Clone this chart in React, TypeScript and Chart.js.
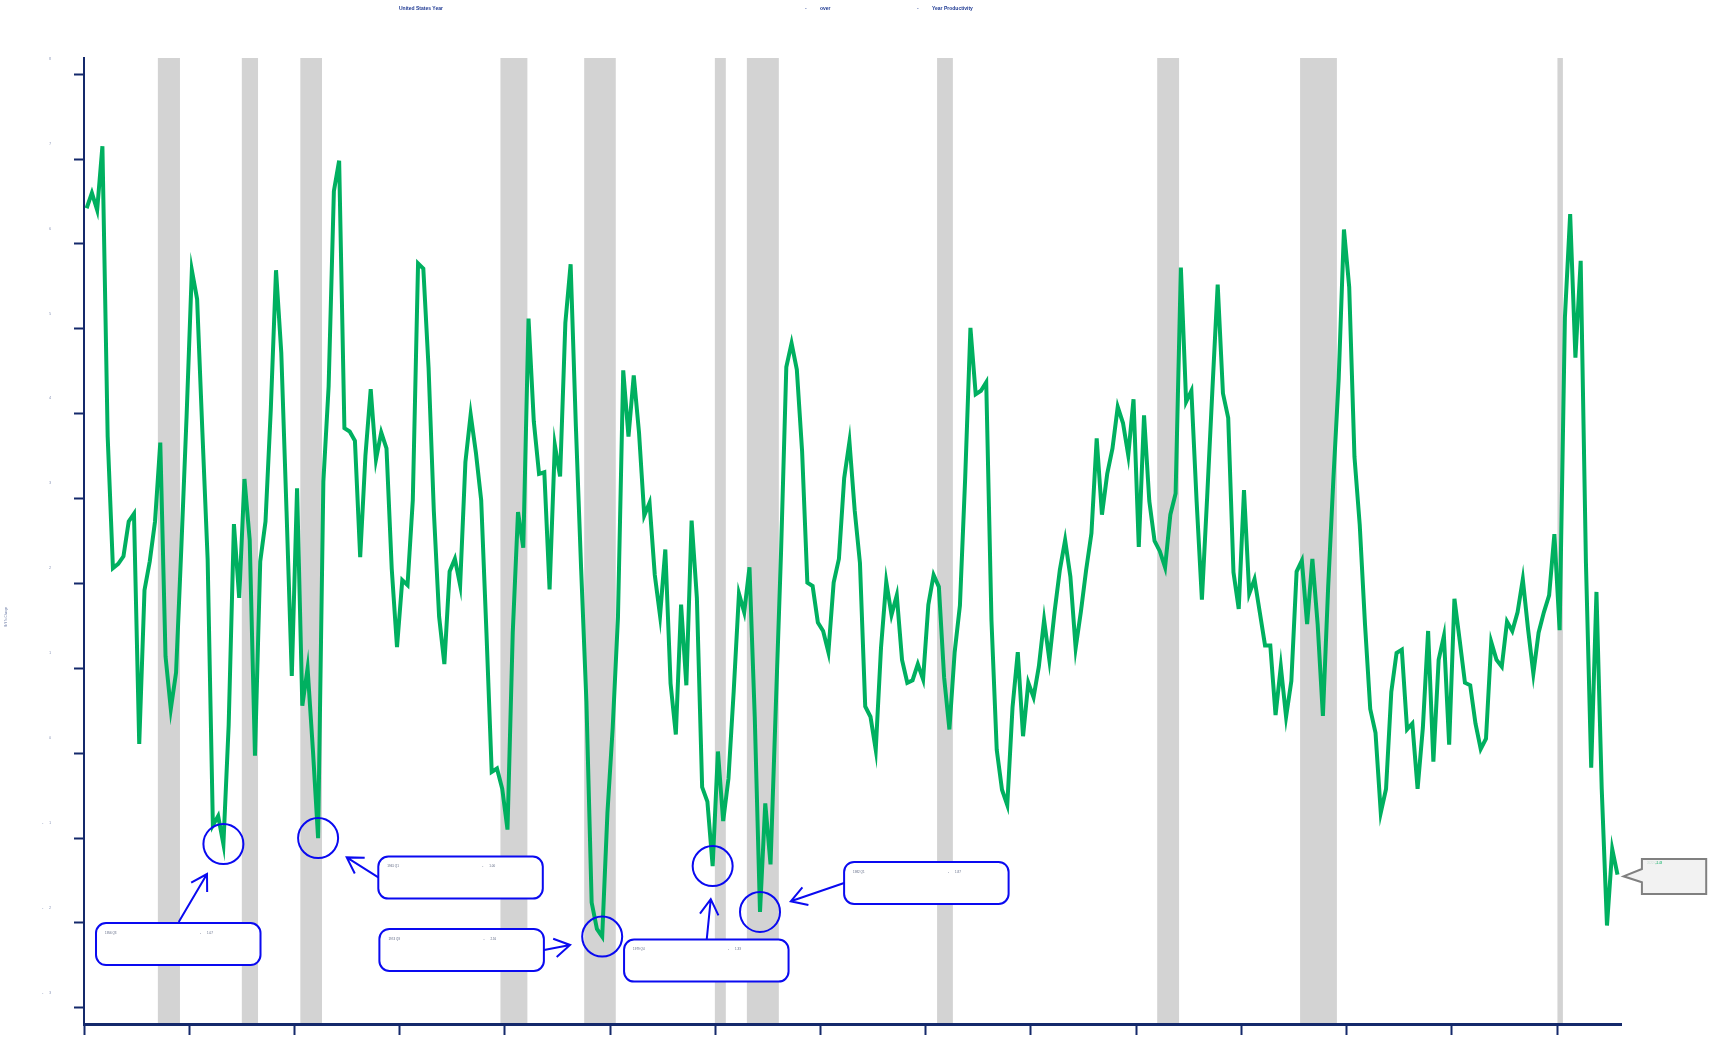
import React, { useEffect, useRef } from "react";
import { Chart, registerables } from "chart.js";

Chart.register(...registerables);

// ---------------- data ----------------
const FIRST_YEAR = 1950;
const QUARTER_NAMES = ["Q1", "Q2", "Q3", "Q4"];

const YOY_1950S = [
  6.42, 6.6, 6.4, 7.15, 3.73, 2.18, 2.23, 2.32, 2.73, 2.82, 0.11, 1.92,
  2.26, 2.73, 3.66, 1.14, 0.52, 0.95, 2.42, 3.97, 5.69, 5.35, 3.79, 2.29,
  -0.85, -0.74, -1.07, 0.33, 2.7, 1.83, 3.23, 2.51, -0.03, 2.26, 2.73, 4.04,
  5.69, 4.72, 2.85, 0.91,
];
const YOY_1960S = [
  3.12, 0.56, 1.0, 0.05, -1.0, 3.2, 4.32, 6.62, 6.98, 3.83, 3.79, 3.68,
  2.31, 3.51, 4.29, 3.46, 3.78, 3.59, 2.17, 1.25, 2.04, 1.98, 2.98, 5.77,
  5.71, 4.54, 2.85, 1.61, 1.05, 2.14, 2.29, 1.98, 3.43, 3.99, 3.54, 2.98,
  1.42, -0.22, -0.18, -0.42,
];
const YOY_1970S = [
  -0.9, 1.42, 2.84, 2.42, 5.12, 3.91, 3.29, 3.31, 1.93, 3.63, 3.26, 5.07,
  5.76, 3.85, 2.17, 0.61, -1.76, -2.07, -2.16, -0.7, 0.3, 1.6, 4.51, 3.73,
  4.45, 3.78, 2.8, 2.95, 2.1, 1.62, 2.4, 0.82, 0.22, 1.75, 0.8, 2.74,
  1.83, -0.4, -0.57, -1.33,
];
const YOY_1980S = [
  0.02, -0.8, -0.3, 0.73, 1.88, 1.66, 2.19, 0.43, -1.87, -0.59, -1.31, 0.54,
  2.37, 4.55, 4.83, 4.52, 3.56, 2.01, 1.97, 1.54, 1.44, 1.19, 2.01, 2.29,
  3.24, 3.67, 2.86, 2.24, 0.55, 0.43, 0.04, 1.24, 2.02, 1.63, 1.86, 1.1,
  0.83, 0.86, 1.05, 0.87,
];
const YOY_1990S = [
  1.75, 2.1, 1.96, 0.89, 0.28, 1.19, 1.74, 3.24, 5.01, 4.23, 4.27, 4.37,
  1.56, 0.04, -0.43, -0.61, 0.54, 1.19, 0.2, 0.83, 0.66, 1.02, 1.57, 1.1,
  1.67, 2.16, 2.51, 2.08, 1.24, 1.67, 2.16, 2.59, 3.71, 2.81, 3.29, 3.59,
  4.08, 3.89, 3.51, 4.17,
];
const YOY_2000S = [
  2.43, 3.98, 2.97, 2.5, 2.38, 2.19, 2.81, 3.06, 5.72, 4.14, 4.27, 2.96,
  1.81, 3.02, 4.29, 5.52, 4.24, 3.95, 2.13, 1.7, 3.1, 1.88, 2.05, 1.66,
  1.27, 1.27, 0.45, 1.02, 0.43, 0.85, 2.14, 2.27, 1.52, 2.29, 1.52, 0.44,
  1.96, 3.24, 4.41, 6.17,
];
const YOY_2010S = [
  5.49, 3.49, 2.69, 1.52, 0.52, 0.24, -0.7, -0.42, 0.72, 1.18, 1.22, 0.28,
  0.35, -0.42, 0.3, 1.44, -0.1, 1.1, 1.38, 0.1, 1.82, 1.33, 0.83, 0.8,
  0.35, 0.05, 0.17, 1.31, 1.1, 1.02, 1.55, 1.44, 1.66, 2.05, 1.46, 0.94,
  1.42, 1.66, 1.86, 2.58,
];
const YOY_2020S = [
  1.45, 5.13, 6.35, 4.66, 5.8, 2.24, -0.17, 1.9, -0.42, -2.03, -1.13, -1.43,
];

const PRODUCTIVITY_YOY = [
  ...YOY_1950S, ...YOY_1960S, ...YOY_1970S, ...YOY_1980S,
  ...YOY_1990S, ...YOY_2000S, ...YOY_2010S, ...YOY_2020S,
];

const Y_TICK_VALUES = [-3, -2, -1, 0, 1, 2, 3, 4, 5, 6, 7, 8];
const X_TICK_YEARS = [1950, 1955, 1960, 1965, 1970, 1975, 1980, 1985, 1990, 1995, 2000, 2005, 2010, 2015, 2020];

const RECESSION_STARTS = [1953.51, 1957.5, 1960.28, 1969.79, 1973.77, 1979.98, 1981.5, 1990.54, 2001.0, 2007.79, 2020.02];
const RECESSION_ENDS = [1954.56, 1958.27, 1961.31, 1971.07, 1975.27, 1980.5, 1983.02, 1991.29, 2002.04, 2009.54, 2020.28];

const TROUGH_INDEXES = [26, 44, 98, 119, 128];

const TITLE_PARTS = ["United States Year", "-", "over", "-", "Year Productivity"];
const Y_AXIS_TITLE = "YoY % Change";

// ---------------- layout / styles ----------------
const NAVY = "#14296b";
const LINE_GREEN = "#00b060";
const BAND_GRAY = "#d3d3d3";
const ANNOT_BLUE = "#0a0af0";
const FONT = "'Liberation Sans', Arial, sans-serif";

const TITLE_X = [399, 805, 820, 917, 932];
const TITLE_Y = 9;

// offsets (px) from each trough point: box top-left, arrow start, arrow tip
const BOX_W = 164.5;
const BOX_H = 42;
const BOX_OFFSETS = [[-127.4, 79], [60.2, 18.5], [-222.8, -7.6], [-88.6, 73.5], [84.1, -50]];
const ARROW_FROM = [[-44.7, 78], [60.2, 39.3], [-58.1, 13.4], [-5.9, 73], [84.1, -29]];
const ARROW_TO = [[-16.4, 30], [28.6, 19.3], [-32.1, 8.4], [-1.9, 33], [30.8, -10.7]];

const quarterX = (i: number) => FIRST_YEAR + (i + 0.5) / 4;
const quarterLabel = (i: number) => `${FIRST_YEAR + Math.floor(i / 4)} ${QUARTER_NAMES[i % 4]}`;

function roundRectPath(ctx: CanvasRenderingContext2D, x: number, y: number, w: number, h: number, r: number) {
  ctx.beginPath();
  ctx.moveTo(x + r, y);
  ctx.lineTo(x + w - r, y);
  ctx.arcTo(x + w, y, x + w, y + r, r);
  ctx.lineTo(x + w, y + h - r);
  ctx.arcTo(x + w, y + h, x + w - r, y + h, r);
  ctx.lineTo(x + r, y + h);
  ctx.arcTo(x, y + h, x, y + h - r, r);
  ctx.lineTo(x, y + r);
  ctx.arcTo(x, y, x + r, y, r);
  ctx.closePath();
}

const overlayPlugin = {
  id: "overlay",
  beforeDraw(chart: any) {
    const { ctx, chartArea, scales } = chart;
    ctx.save();
    ctx.fillStyle = BAND_GRAY;
    for (let k = 0; k < RECESSION_STARTS.length; k++) {
      const x0 = scales.x.getPixelForValue(RECESSION_STARTS[k]);
      const x1 = scales.x.getPixelForValue(RECESSION_ENDS[k]);
      ctx.fillRect(x0, chartArea.top, x1 - x0, chartArea.bottom - chartArea.top);
    }
    ctx.restore();
  },
  afterDatasetsDraw(chart: any) {
    const { ctx, scales } = chart;
    ctx.save();
    TROUGH_INDEXES.forEach((idx, k) => {
      const cx = scales.x.getPixelForValue(quarterX(idx));
      const cy = scales.y.getPixelForValue(PRODUCTIVITY_YOY[idx]);
      ctx.strokeStyle = ANNOT_BLUE;
      ctx.lineWidth = 2;
      // circle
      ctx.beginPath();
      ctx.arc(cx, cy, 20, 0, Math.PI * 2);
      ctx.stroke();
      // arrow
      const fx = cx + ARROW_FROM[k][0], fy = cy + ARROW_FROM[k][1];
      const tx = cx + ARROW_TO[k][0], ty = cy + ARROW_TO[k][1];
      ctx.beginPath();
      ctx.moveTo(fx, fy);
      ctx.lineTo(tx, ty);
      const ang = Math.atan2(fy - ty, fx - tx);
      const hl = 18, spread = (31 * Math.PI) / 180;
      ctx.moveTo(tx + hl * Math.cos(ang + spread), ty + hl * Math.sin(ang + spread));
      ctx.lineTo(tx, ty);
      ctx.lineTo(tx + hl * Math.cos(ang - spread), ty + hl * Math.sin(ang - spread));
      ctx.stroke();
      // box
      const bx = cx + BOX_OFFSETS[k][0], by = cy + BOX_OFFSETS[k][1];
      roundRectPath(ctx, bx, by, BOX_W, BOX_H, 10);
      ctx.fillStyle = "#ffffff";
      ctx.fill();
      ctx.stroke();
      // text
      const v = PRODUCTIVITY_YOY[idx];
      ctx.fillStyle = "#5a6480";
      ctx.font = `3px ${FONT}`;
      ctx.textBaseline = "middle";
      ctx.textAlign = "left";
      ctx.fillText(quarterLabel(idx), bx + 9, by + 10);
      ctx.fillText(v < 0 ? "-" : "", bx + 104, by + 10);
      ctx.fillText(Math.abs(v).toFixed(2), bx + 111, by + 10);
    });

    // last-point callout
    const li = PRODUCTIVITY_YOY.length - 1;
    const px = scales.x.getPixelForValue(quarterX(li));
    const py = scales.y.getPixelForValue(PRODUCTIVITY_YOY[li]);
    const rx = px + 24.4, ry = py - 15.6, rw = 64.3, rh = 35;
    ctx.beginPath();
    ctx.moveTo(rx, ry);
    ctx.lineTo(rx + rw, ry);
    ctx.lineTo(rx + rw, ry + rh);
    ctx.lineTo(rx, ry + rh);
    ctx.lineTo(rx, py + 7.7);
    ctx.lineTo(px + 6, py + 1.7);
    ctx.lineTo(rx, py - 5.6);
    ctx.closePath();
    ctx.fillStyle = "#f2f2f2";
    ctx.fill();
    ctx.strokeStyle = "#808080";
    ctx.lineWidth = 2;
    ctx.stroke();
    ctx.font = `3px ${FONT}`;
    ctx.textBaseline = "middle";
    ctx.textAlign = "left";
    ctx.fillStyle = "#c8dcd2";
    ctx.fillText(quarterLabel(li), rx + 5, ry + 4);
    ctx.fillStyle = LINE_GREEN;
    ctx.fillText(PRODUCTIVITY_YOY[li].toFixed(2), rx + 13.5, ry + 4);
    ctx.restore();
  },
  afterDraw(chart: any) {
    const { ctx } = chart;
    ctx.save();
    ctx.fillStyle = "#1f3a93";
    ctx.font = `bold 5px ${FONT}`;
    ctx.textBaseline = "middle";
    ctx.textAlign = "left";
    TITLE_PARTS.forEach((t, k) => ctx.fillText(t, TITLE_X[k], TITLE_Y));
    ctx.translate(6, 617);
    ctx.rotate(-Math.PI / 2);
    ctx.textAlign = "center";
    ctx.font = `3px ${FONT}`;
    ctx.fillStyle = "#6b7aa5";
    ctx.fillText(Y_AXIS_TITLE, 0, 0);
    ctx.restore();
  },
};

export default function App() {
  const canvasRef = useRef<HTMLCanvasElement | null>(null);

  useEffect(() => {
    const canvas = canvasRef.current;
    if (!canvas) return;
    const points = PRODUCTIVITY_YOY.map((v, i) => ({ x: quarterX(i), y: v }));
    const chart = new Chart(canvas, {
      type: "line",
      data: {
        datasets: [
          {
            label: "Productivity YoY",
            data: points,
            borderColor: LINE_GREEN,
            borderWidth: 4,
            pointRadius: 0,
            tension: 0,
            fill: false,
          },
        ],
      },
      options: {
        responsive: false,
        animation: false,
        devicePixelRatio: 1,
        layout: { padding: { top: 58, right: 87.6, bottom: 0, left: 0 } },
        plugins: {
          legend: { display: false },
          title: { display: false },
          tooltip: { enabled: false },
        },
        scales: {
          x: {
            type: "linear",
            min: 1950,
            max: 2023.06,
            afterBuildTicks: (s: any) => {
              s.ticks = X_TICK_YEARS.map((v) => ({ value: v }));
            },
            afterFit: (s: any) => {
              s.height = 14;
              s.paddingLeft = 0;
              s.paddingRight = 0;
            },
            ticks: { display: false },
            grid: { drawOnChartArea: false, drawTicks: true, tickLength: 11, tickWidth: 2, tickColor: NAVY },
            border: { display: true, color: NAVY, width: 3 },
          },
          y: {
            type: "linear",
            min: -3.19,
            max: 8.19,
            afterBuildTicks: (s: any) => {
              s.ticks = Y_TICK_VALUES.map((v) => ({ value: v }));
            },
            afterFit: (s: any) => {
              s.width = 84;
              s.paddingTop = 0;
              s.paddingBottom = 0;
            },
            ticks: {
              autoSkip: false,
              padding: 23,
              labelOffset: -15,
              color: "#6b7aa5",
              font: { size: 3, family: FONT },
              callback: (v: any) => (v < 0 ? `-\u2003\u2003${Math.abs(v)}` : `${v}`),
            },
            grid: { drawOnChartArea: false, drawTicks: true, tickLength: 10, tickWidth: 2, tickColor: NAVY },
            border: { display: true, color: NAVY, width: 2 },
          },
        },
      },
      plugins: [overlayPlugin],
    } as any);
    return () => chart.destroy();
  }, []);

  return (
    <div style={{ position: "fixed", left: 0, top: 0, width: 1709, height: 1038, background: "#ffffff" }}>
      <canvas ref={canvasRef} width={1709} height={1038} style={{ display: "block", width: 1709, height: 1038 }} />
    </div>
  );
}
